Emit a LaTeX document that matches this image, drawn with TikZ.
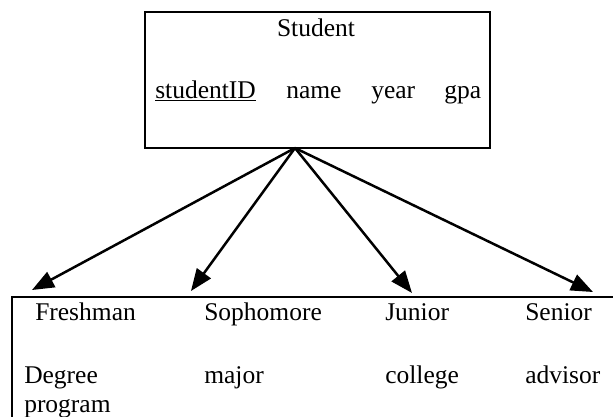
\documentclass[tikz,border=0pt]{standalone}
\usepackage{fontspec}
\setmainfont{Liberation Serif}
\usetikzlibrary{arrows.meta}

\begin{document}
\begin{tikzpicture}[x=1pt,y=-1pt,line width=2.5pt,
    every node/.style={font=\fontsize{25.5}{29}\selectfont, inner sep=0pt, anchor=base west},
    isa/.style={-{Triangle[length=22pt,width=17pt]}}]
    \useasboundingbox (0,0) rectangle (613,417);
    % superclass
    \draw (145,12) rectangle (490,148);
    \node[anchor=base] (student) at (316,37) {Student};
    \node (sid) at (154,99) {\underline{studentID}};
    \node (name) at (285,99) {name};
    \node (year) at (370,99) {year};
    \node (gpa) at (443,99) {gpa};
    \coordinate (apex) at (295,148);
    % subclasses
    \draw (613,297) -- (12,297) -- (12,417);
    \node (fresh) at (34,320) {Freshman};
    \node (soph) at (203,320) {Sophomore};
    \node (junior) at (384,320) {Junior};
    \node (senior) at (524,320) {Senior};
    \node[align=left] (degree) at (23,412) {Degree\\program};
    \node (major) at (203,383) {major};
    \node (college) at (384,383) {college};
    \node (advisor) at (524,383) {advisor};
    \coordinate (tfresh) at (32,290);
    \coordinate (tsoph) at (191,291);
    \coordinate (tjunior) at (412,293);
    \coordinate (tsenior) at (593,292);
    \foreach \t in {tfresh,tsoph,tjunior,tsenior}
        \draw[isa] (apex) -- (\t);
\end{tikzpicture}
\end{document}
